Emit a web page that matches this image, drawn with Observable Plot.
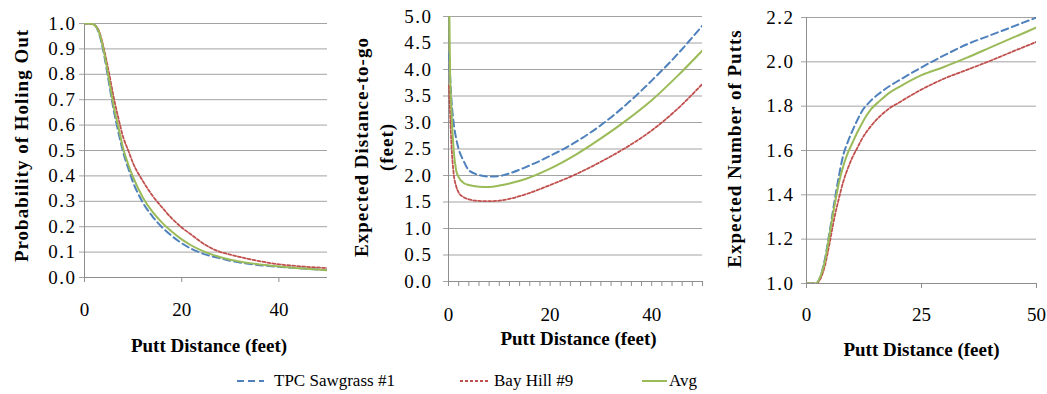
<!DOCTYPE html>
<html><head><meta charset="utf-8">
<script src="https://cdn.jsdelivr.net/npm/d3@7"></script>
<script src="https://cdn.jsdelivr.net/npm/@observablehq/plot@0.6"></script>
<style>
html,body{margin:0;padding:0;background:#fff;}
#chart{position:relative;width:1047px;height:394px;font-family:"Liberation Serif","DejaVu Serif",serif;color:#000;overflow:hidden;}
.panel{position:absolute;top:0;}
.panel svg{overflow:visible;background:transparent;}
.panel svg text{font-family:"Liberation Serif","DejaVu Serif",serif;}
.panel [aria-label="y-axis tick label"]{letter-spacing:1.5px;}
.legend-item{position:absolute;top:370px;height:22px;display:flex;align-items:center;font-size:17px;white-space:nowrap;}
</style>
</head><body><div id="chart"></div>
<script>
// ---- series ----
const seriesNames = ["TPC Sawgrass #1", "Bay Hill #9", "Avg"];
const seriesColors = ["#4F81BD", "#C0504D", "#9BBB59"];

// ---- Panel 1: Probability of holing out ----
const probX   = [0,1,2,3,4,5,6,7,8,9,10,12,14,16,18,20,22,25,28,30,35,40,45,50];
const probTPC = [1,1,0.995,0.96,0.88,0.77,0.66,0.57,0.49,0.43,0.375,0.295,0.24,0.197,0.163,0.135,0.113,0.09,0.075,0.066,0.051,0.042,0.035,0.029];
const probBay = [1,1,0.995,0.97,0.9,0.81,0.71,0.625,0.55,0.5,0.45,0.38,0.322,0.275,0.232,0.197,0.168,0.127,0.1,0.09,0.068,0.052,0.043,0.037];
const probAvg = [1,1,0.995,0.965,0.89,0.785,0.675,0.59,0.505,0.445,0.395,0.315,0.258,0.215,0.18,0.15,0.126,0.099,0.08,0.07,0.054,0.043,0.035,0.028];

// ---- Panel 2: Expected distance-to-go (feet) ----
const distX   = [0.1,0.3,0.6,1,1.5,2,3,4,6,8,10,12,15,20,25,30,35,40,45,50];
const distTPC = [4.3,3.9,3.4,3.0,2.7,2.5,2.27,2.1,2.01,1.98,1.99,2.04,2.15,2.37,2.63,2.95,3.34,3.79,4.28,4.83];
const distBay = [3.7,3.2,2.55,2.05,1.8,1.68,1.59,1.55,1.52,1.515,1.525,1.56,1.64,1.82,2.02,2.26,2.53,2.85,3.25,3.73];
const distAvg = [5.6,4.0,3.2,2.5,2.1,1.97,1.86,1.82,1.79,1.785,1.81,1.85,1.93,2.13,2.39,2.7,3.04,3.42,3.87,4.36];

// ---- Panel 3: Expected number of putts ----
const puttX   = [0,1,2,3,4,5,6,7,8,9,10,11,12,14,16,18,20,25,30,35,40,45,50];
const puttTPC = [1,1,1,1.03,1.11,1.23,1.36,1.48,1.58,1.64,1.69,1.735,1.775,1.825,1.86,1.89,1.915,1.975,2.03,2.08,2.12,2.16,2.2];
const puttBay = [1,1,1,1.02,1.08,1.18,1.29,1.38,1.46,1.52,1.57,1.61,1.65,1.71,1.755,1.79,1.815,1.875,1.925,1.965,2.005,2.048,2.09];
const puttAvg = [1,1,1,1.03,1.1,1.22,1.34,1.45,1.53,1.59,1.635,1.68,1.72,1.785,1.825,1.86,1.885,1.94,1.978,2.02,2.065,2.11,2.155];

// ---- tick labels ----
const probYTicks = d3.range(0, 11).map(i => i / 10);
const distYTicks = d3.range(0, 11).map(i => i / 2);
const puttYTicks = d3.range(0, 7).map(i => 1 + i / 5);
const probXTicks = [0, 20, 40];
const distXTicks = [0, 20, 40];
const distXMinor = d3.range(0, 51, 2);
const puttXTicks = [0, 25, 50];

const FONT = '"Liberation Serif","DejaVu Serif",serif';
const gridColor = "#a3a3a3";
const axisColor = "#8e8e8e";
const dashes = ["7,4", "3,2", null];
const widths = [2, 1.8, 2];

function rows(xs, arr) { return xs.map((x, i) => ({x, y: arr[i]})); }

function makePanel(cfg) {
  const seriesData = cfg.series.map(s => rows(cfg.xs, s));
  const marks = [
    Plot.gridY(cfg.yTicks.filter(t => t > cfg.yDomain[0]), {stroke: gridColor, strokeOpacity: 1, strokeWidth: 1}),
    Plot.ruleY([cfg.yDomain[0]], {stroke: axisColor, strokeWidth: 1}),
    Plot.ruleX([0], {stroke: axisColor, strokeWidth: 1}),
    Plot.axisY({ticks: cfg.yTicks, tickSize: 5, tickPadding: cfg.yPad, tickFormat: d3.format(".1f"), stroke: gridColor, fontSize: 19, label: null}),
  ];
  if (cfg.xMinor) {
    marks.push(Plot.axisX({ticks: cfg.xMinor, tickSize: 5, tickFormat: () => "", stroke: axisColor, label: null}));
    marks.push(Plot.axisX({ticks: cfg.xTicks, tickSize: 0, tickPadding: 5 + cfg.xPad, fontSize: 19, label: null}));
  } else {
    marks.push(Plot.axisX({ticks: cfg.xTicks, tickSize: 5, tickPadding: cfg.xPad, stroke: axisColor, fontSize: 19, label: null}));
  }
  seriesData.forEach((d, i) => {
    marks.push(Plot.line(d, {x: "x", y: "y", stroke: seriesColors[i], strokeWidth: widths[i],
      strokeDasharray: dashes[i] || undefined, curve: "monotone-x", clip: true}));
  });
  marks.push(Plot.text([cfg.xTitle], {text: d => d, frameAnchor: "bottom", textAnchor: "middle", lineAnchor: "middle",
    dy: cfg.xTitleDy, dx: cfg.xTitleDx || 0, fontSize: 19, fontWeight: "bold", fill: "black"}));
  marks.push(Plot.text([cfg.yTitle], {text: d => d, frameAnchor: "left", textAnchor: "middle", lineAnchor: "middle",
    rotate: -90, dx: cfg.yTitleDx, dy: cfg.yTitleDy || 0,
    fontSize: 19, fontWeight: "bold", lineHeight: 1.3, fill: "black"}));
  const svg = Plot.plot({
    width: cfg.width, height: cfg.height,
    marginLeft: cfg.m[0], marginRight: cfg.m[1], marginTop: cfg.m[2], marginBottom: cfg.m[3],
    x: {domain: [0, 50]},
    y: {domain: cfg.yDomain},
    style: {fontFamily: FONT, color: "black", background: "transparent", overflow: "visible"},
    marks
  });
  d3.select(svg).attr("font-family", FONT);
  d3.select(svg).selectAll("text").filter(function() { return /rotate/.test(this.getAttribute("transform") || ""); })
    .style("letter-spacing", "1px");
  const div = document.createElement("div");
  div.className = "panel";
  div.style.left = cfg.left + "px";
  div.appendChild(svg);
  document.getElementById("chart").appendChild(div);
}

makePanel({
  left: 0, width: 345, height: 360, m: [84, 18, 23, 83],
  xs: probX, series: [probTPC, probBay, probAvg],
  yDomain: [0, 1], yTicks: probYTicks, yPad: 3,
  xTicks: probXTicks, xPad: 20,
  xTitle: "Putt Distance (feet)", xTitleDy: 68, xTitleDx: 3,
  yTitle: "Probability of Holing Out", yTitleDx: -64, yTitleDy: -5
});
makePanel({
  left: 345, width: 360, height: 360, m: [103, 3, 16, 79],
  xs: distX, series: [distTPC, distBay, distAvg],
  yDomain: [0, 5], yTicks: distYTicks, yPad: 11,
  xTicks: distXTicks, xMinor: distXMinor, xPad: 21,
  xTitle: "Putt Distance (feet)", xTitleDy: 57, xTitleDx: 3,
  yTitle: "Expected Distance-to-go\n(feet)", yTitleDx: -76, yTitleDy: -2
});
makePanel({
  left: 705, width: 342, height: 360, m: [101, 11, 17, 77],
  xs: puttX, series: [puttTPC, puttBay, puttAvg],
  yDomain: [1, 2.2], yTicks: puttYTicks, yPad: 7,
  xTicks: puttXTicks, xPad: 19,
  xTitle: "Putt Distance (feet)", xTitleDy: 66,
  yTitle: "Expected Number of Putts", yTitleDx: -73, yTitleDy: -2
});

// ---- legend ----
const legendLeft = [237, 460, 642];
const legendSwatch = [27, 30, 25];
seriesNames.forEach((name, i) => {
  const item = document.createElement("div");
  item.className = "legend-item";
  item.style.left = legendLeft[i] + "px";
  const w = legendSwatch[i];
  item.innerHTML = `<svg width="${w}" height="22" style="margin-right:${i === 2 ? 2 : (i === 1 ? 4 : 10)}px"><line x1="0" x2="${w}" y1="11" y2="11" stroke="${seriesColors[i]}" stroke-width="${widths[i]}" ${dashes[i] ? `stroke-dasharray="${dashes[i]}"` : ""}/></svg><span>${name}</span>`;
  document.getElementById("chart").appendChild(item);
});
</script>
</body></html>
